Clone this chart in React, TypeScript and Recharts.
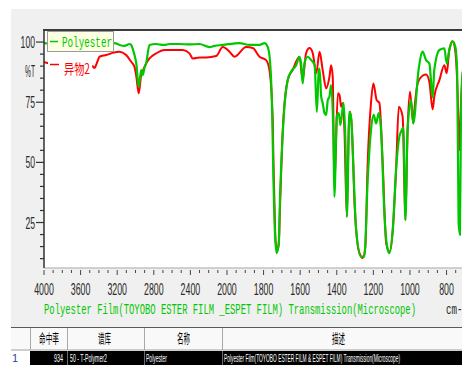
import { LineChart, Line, XAxis, YAxis } from 'recharts'

const xTickLabels = [4000, 3600, 3200, 2800, 2400, 2000, 1800, 1600, 1400, 1200, 1000, 800]
const yTickLabels = [25, 50, 75, 100]

// library reference: Polyester film
const polyesterWavenumbers = [
  4000, 3950, 3900, 3850, 3800, 3700, 3600, 3500, 3400, 3300, 3229, 3175, 3120, 3066, 3047, 3033,
  3011, 2992, 2964, 2938, 2920, 2902, 2883, 2847, 2774, 2738, 2683, 2629, 2519, 2410, 2301, 2191,
  2137, 2046, 1932, 1877, 1822, 1795, 1777, 1764, 1753, 1746, 1737, 1728, 1717, 1710, 1699, 1686,
  1668, 1650, 1622, 1604, 1595, 1586, 1577, 1559, 1540, 1521, 1509, 1498, 1494, 1485, 1477, 1467,
  1458, 1449, 1440, 1431, 1418, 1413, 1400, 1389, 1380, 1363, 1352, 1345, 1331, 1321, 1313, 1294,
  1267, 1249, 1231, 1213, 1198, 1185, 1171, 1158, 1139, 1121, 1112, 1094, 1076, 1058, 1049, 1036,
  1025, 1013, 994, 982, 953, 931, 912, 894, 876, 867, 839, 812, 799, 785, 767, 752, 742, 734, 727,
  721, 710, 690, 660,
]
const polyesterT = [
  99.6, 99.4, 99.5, 99.2, 99.4, 99.5, 99.1, 99.3, 99.0, 99.2, 99.6, 98.8, 98.4, 99.2, 98.8, 97.5,
  94.6, 91.3, 81.4, 88.4, 86.3, 89.2, 91.3, 98.8, 99.2, 99.0, 98.8, 99.2, 99.2, 99.0, 99.2, 97.9,
  98.4, 98.8, 99.6, 98.8, 98.8, 99.6, 97.9, 91.3, 70.5, 42.7, 19.1, 12.3, 16.5, 35.7, 56.5, 73.1,
  84.2, 87.7, 90.4, 93.9, 91.1, 82.8, 91.1, 93.9, 92.5, 90.4, 71.0, 88.4, 89.0, 77.3, 74.7, 70.5,
  69.7, 75.9, 77.3, 82.1, 59.3, 35.7, 69.0, 70.5, 65.5, 74.7, 56.5, 27.4, 71.0, 68.4, 55.1, 21.9,
  10.8, 10.8, 42.7, 63.4, 69.7, 66.2, 70.5, 63.4, 27.4, 13.6, 12.3, 21.9, 46.8, 60.7, 62.7, 64.3,
  26.0, 63.4, 75.9, 66.2, 88.4, 96.0, 92.5, 91.1, 77.0, 88.4, 96.7, 97.4, 91.1, 96.7, 100.3, 98.0, 88.0, 24.8, 20.0,
  70.0, 88.0, 92.0, 93.0,
]

// measured sample: 异物2
const sampleWavenumbers = [
  4000, 3973, 3900, 3800, 3700, 3600, 3503, 3470, 3448, 3420, 3393, 3320, 3251, 3175, 3102, 3047,
  3011, 2992, 2964, 2938, 2920, 2902, 2847, 2774, 2683, 2519, 2483, 2410, 2374, 2301, 2227, 2118,
  2046, 1986, 1959, 1895, 1859, 1822, 1786, 1768, 1750, 1746, 1737, 1728, 1717, 1710, 1695, 1668,
  1641, 1604, 1586, 1568, 1549, 1531, 1512, 1494, 1477, 1458, 1440, 1431, 1422, 1413, 1394, 1385,
  1376, 1367, 1358, 1345, 1334, 1327, 1316, 1303, 1291, 1276, 1258, 1244, 1231, 1213, 1200, 1182,
  1167, 1149, 1130, 1112, 1094, 1076, 1061, 1040, 1025, 1013, 1000, 982, 976, 958, 931, 912, 894,
  876, 867, 839, 812, 799, 785, 767, 752, 740, 730, 721, 710, 690, 660,
]
const sampleT = [
  91.6, 91.4, 91.0, 90.6, 90.4, 90.2, 90.0, 90.0, 89.2, 91.5, 93.9, 94.6, 95.5, 96.0, 94.6, 91.8,
  89.7, 86.0, 78.7, 86.3, 88.0, 89.7, 93.2, 95.3, 96.7, 96.7, 96.7, 95.3, 93.2, 93.6, 93.6, 94.2,
  97.9, 96.0, 93.9, 97.9, 97.5, 93.9, 92.5, 88.4, 67.6, 50.0, 22.0, 12.9, 16.0, 32.0, 63.4, 84.2,
  88.4, 93.9, 84.2, 95.3, 97.5, 95.3, 87.0, 96.0, 88.4, 80.8, 85.6, 90.4, 85.6, 40.0, 78.7, 78.0,
  73.1, 74.7, 63.4, 27.4, 64.8, 71.0, 62.2, 33.1, 19.1, 12.3, 10.3, 15.0, 49.7, 74.7, 82.8, 75.9,
  74.7, 49.7, 16.5, 12.9, 21.9, 46.8, 73.1, 69.0, 26.0, 63.4, 79.4, 66.2, 71.7, 82.8, 86.0, 86.5, 83.5,
  72.0, 77.3, 84.2, 90.4, 87.0, 96.7, 100.3, 96.0, 80.0, 55.0, 75.0, 88.0, 91.0, 92.0,
]

const GREEN = '#00c800'
const RED = '#ff0000'

// wavenumber axis changes scale at 2000 cm-1: 400 per division above, 200 below
function toPos(wn: number) {
  return wn >= 2000 ? (4000 - wn) / 400 : 5 + (2000 - wn) / 200
}

const polyesterData = polyesterWavenumbers.map((wn, i) => ({ pos: toPos(wn), t: polyesterT[i] }))
const sampleData = sampleWavenumbers.map((wn, i) => ({ pos: toPos(wn), t: sampleT[i] }))

const xTicks = Array.from({ length: 48 }, (_, i) => i * 0.25)
const yTicks = Array.from({ length: 19 }, (_, i) => 10 + i * 5)

const tickFont = { fontFamily: '"Liberation Sans", sans-serif', fontSize: 17, fill: '#2a2a2a' }

function XTick({ x, y, payload }: any) {
  const p = payload.value
  const major = Math.abs(p - Math.round(p)) < 1e-6
  const label = major ? String(xTickLabels[Math.round(p)] ?? '') : ''
  const len = label.length * 4.9
  return (
    <g>
      <line x1={x} x2={x} y1={y + 2} y2={y + (major ? 7 : 5)} stroke="#444" />
      {label && (
        <text x={x - len / 2} y={y + 27} textLength={len} lengthAdjust="spacingAndGlyphs" {...tickFont}>
          {label}
        </text>
      )}
    </g>
  )
}

function YTick({ x, y, payload }: any) {
  const v = payload.value
  const major = yTickLabels.includes(v)
  const label = major ? String(v) : ''
  const len = label.length * 4.8
  return (
    <g>
      <line x1={x - (major ? 8 : 4)} x2={x} y1={y} y2={y} stroke="#333" strokeWidth={1.2} />
      {label && (
        <text x={x - 9 - len} y={y + 6} textLength={len} lengthAdjust="spacingAndGlyphs" {...tickFont}>
          {label}
        </text>
      )}
    </g>
  )
}

const cjk = '"Noto Sans CJK SC", sans-serif'
const mono = '"Liberation Mono", monospace'
const sans = '"Liberation Sans", sans-serif'

function Overlay() {
  return (
    <svg width={462} height={367} style={{ position: 'absolute', left: 0, top: 0, pointerEvents: 'none' }}>
      {/* plot frame top */}
      <line x1={43} x2={480} y1={30} y2={30} stroke="#3c3c3c" strokeWidth={2} />

      {/* legend */}
      <rect x={47.5} y={31.5} width={66} height={20} fill="#ffffe4" stroke="#9a9a9a" />
      <line x1={50} x2={58} y1={41.5} y2={41.5} stroke={GREEN} strokeWidth={1.5} />
      <text x={62} y={47} textLength={50} lengthAdjust="spacingAndGlyphs" fontFamily={mono} fontSize={15} fill={GREEN}>
        Polyester
      </text>
      <rect x={48} y={60} width={44} height={16} fill="#fff" />
      <line x1={50} x2={59} y1={64.5} y2={64.5} stroke={RED} strokeWidth={1.5} />
      <text x={64} y={74} textLength={26} lengthAdjust="spacingAndGlyphs" fontFamily={cjk} fontSize={14} fill={RED}>
        异物2
      </text>

      <text x={25} y={77} textLength={10} lengthAdjust="spacingAndGlyphs" fontFamily={sans} fontSize={16} fill="#2a2a2a">
        %T
      </text>

      {/* caption below the axis */}
      <text x={44} y={314} textLength={372} lengthAdjust="spacingAndGlyphs" fontFamily={mono} fontSize={15} fill={GREEN}>
        Polyester Film(TOYOBO ESTER FILM _ESPET FILM)  Transmission(Microscope)
      </text>
      <text x={446} y={314} textLength={22} lengthAdjust="spacingAndGlyphs" fontFamily={mono} fontSize={15} fill="#2a2a2a">
        cm-1
      </text>

      {/* hit table */}
      <rect x={11} y={327} width={460} height={23} fill="#f9f9f9" />
      <line x1={11} x2={470} y1={327.5} y2={327.5} stroke="#5a5a5a" />
      <line x1={11} x2={470} y1={350} y2={350} stroke="#a0a0a0" />
      {[30, 67, 144, 222].map((cx) => (
        <line key={cx} x1={cx + 0.5} x2={cx + 0.5} y1={328} y2={350} stroke="#a8a8a8" />
      ))}
      <text x={39} y={343} textLength={20} lengthAdjust="spacingAndGlyphs" fontFamily={cjk} fontSize={13} fill="#000">
        命中率
      </text>
      <text x={98} y={343} textLength={13} lengthAdjust="spacingAndGlyphs" fontFamily={cjk} fontSize={13} fill="#000">
        谱库
      </text>
      <text x={177} y={343} textLength={13} lengthAdjust="spacingAndGlyphs" fontFamily={cjk} fontSize={13} fill="#000">
        名称
      </text>
      <text x={332} y={343} textLength={13} lengthAdjust="spacingAndGlyphs" fontFamily={cjk} fontSize={13} fill="#000">
        描述
      </text>

      <rect x={11} y={351} width={19} height={16} fill="#fff" />
      <rect x={30} y={351} width={440} height={14} fill="#000" />
      {[67, 144, 222].map((cx) => (
        <line key={cx} x1={cx + 0.5} x2={cx + 0.5} y1={351} y2={365} stroke="#6a6a6a" />
      ))}
      <text x={12} y={362} fontFamily={sans} fontSize={11} fill="#2a4a9a">
        1
      </text>
      <text x={54} y={362} textLength={9} lengthAdjust="spacingAndGlyphs" fontFamily={sans} fontSize={11} fill="#fff">
        934
      </text>
      <text x={70} y={362} textLength={37} lengthAdjust="spacingAndGlyphs" fontFamily={sans} fontSize={11} fill="#fff">
        50 - T-Polymer2
      </text>
      <text x={146} y={362} textLength={21} lengthAdjust="spacingAndGlyphs" fontFamily={sans} fontSize={11} fill="#fff">
        Polyester
      </text>
      <text x={224} y={362} textLength={176} lengthAdjust="spacingAndGlyphs" fontFamily={sans} fontSize={11} fill="#fff">
        Polyester Film(TOYOBO ESTER FILM &amp; ESPET FILM)  Transmission(Microscope)
      </text>
    </svg>
  )
}

export default function App() {
  return (
    <div
      style={{
        position: 'absolute',
        left: 0,
        top: 0,
        width: 462,
        height: 367,
        overflow: 'hidden',
        background: '#fff',
      }}
    >
      <div style={{ position: 'absolute', left: 11, top: 9, width: 470, height: 318, background: '#f0f0f0' }} />
      <div style={{ position: 'absolute', left: 44, top: 31, width: 440, height: 237, background: '#fff' }} />
      <div style={{ position: 'absolute', left: 0, top: 0 }}>
        <LineChart width={474} height={300} margin={{ top: 31, right: 0, bottom: 0, left: 0 }}>
          <XAxis
            type="number"
            dataKey="pos"
            domain={[0, 11.75]}
            ticks={xTicks}
            interval={0}
            tick={<XTick />}
            tickLine={false}
            tickSize={0}
            tickMargin={0}
            height={32}
            axisLine={{ stroke: '#a8a8a8' }}
            allowDataOverflow
          />
          <YAxis
            type="number"
            dataKey="t"
            domain={[6.1, 104.6]}
            ticks={yTicks}
            interval={0}
            tick={<YTick />}
            tickLine={false}
            tickSize={0}
            tickMargin={0}
            width={44}
            axisLine={{ stroke: '#303030', strokeWidth: 1.5 }}
            allowDataOverflow
          />
          <Line
            data={sampleData}
            dataKey="t"
            type="monotone"
            stroke={RED}
            strokeWidth={2}
            dot={false}
            isAnimationActive={false}
          />
          <Line
            data={polyesterData}
            dataKey="t"
            type="monotone"
            stroke={GREEN}
            strokeWidth={2.2}
            dot={false}
            isAnimationActive={false}
          />
        </LineChart>
      </div>
      <Overlay />
    </div>
  )
}
